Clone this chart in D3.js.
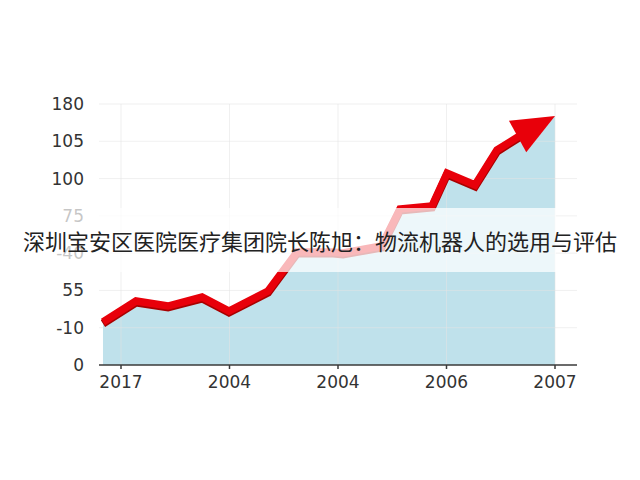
<!DOCTYPE html>
<html>
<head>
<meta charset="utf-8">
<script src="https://cdn.jsdelivr.net/npm/d3@7"></script>
<style>
html,body{margin:0;padding:0;background:#fff;}
svg{display:block;}
</style>
</head>
<body>
<svg id="chart" width="640" height="480"></svg>
<script>
// ---- data ----
const xTickLabels = ["2017", "2004", "2004", "2006", "2007"];
const yTickLabels = ["0", "-10", "55", "-40", "75", "100", "105", "180"];
// x positions in tick units (0 = first x tick), y values in gridline units (0 = bottom)
const xPos   = [-0.166, 0.138, 0.433, 0.747, 0.995, 1.355, 1.622, 1.954, 2.046, 2.40, 2.571, 2.866, 3.005, 3.263, 3.465, 3.72];
const yVal   = [1.153, 1.716, 1.582, 1.823, 1.448, 1.984, 3.029, 3.029, 3.003, 3.19, 4.182, 4.263, 5.147, 4.826, 5.764, 6.233];
const arrowTip = [4.0, 6.68];
const title = "深圳宝安区医院医疗集团院长陈旭：物流机器人的选用与评估";

// ---- layout ----
const svg = d3.select("#chart");
const x = d3.scaleLinear().domain([0, 4]).range([121, 555]);
const y = d3.scaleLinear().domain([0, 7]).range([365, 104]);
const gridLeft = 99, gridRight = 577;

const pts = xPos.map((v, i) => [v, yVal[i]]);
const areaPts = pts.concat([arrowTip]);

// gridlines
const g = svg.append("g");
g.selectAll("line.h").data(d3.range(1, yTickLabels.length)).join("line")
  .attr("x1", gridLeft).attr("x2", gridRight)
  .attr("y1", d => y(d)).attr("y2", d => y(d))
  .attr("stroke", "#e4e4e4").attr("stroke-width", 1);
g.selectAll("line.v").data(d3.range(xTickLabels.length)).join("line")
  .attr("x1", d => x(d)).attr("x2", d => x(d))
  .attr("y1", y(7)).attr("y2", y(0))
  .attr("stroke", "#e4e4e4").attr("stroke-width", 1);

// area
svg.append("path")
  .attr("d", d3.area().x(d => x(d[0])).y0(y(0)).y1(d => y(d[1]))(areaPts))
  .attr("fill", "#bfe1eb");

// vertical gridlines faintly over area
g.raise();
g.selectAll("line").attr("stroke-opacity", 0.55);

// line shadow + line
const lineGen = d3.line().x(d => x(d[0])).y(d => y(d[1]));
svg.append("path")
  .attr("d", lineGen(pts))
  .attr("transform", "translate(0,1.5)")
  .attr("fill", "none").attr("stroke", "#a80000")
  .attr("stroke-width", 8).attr("stroke-linejoin", "miter").attr("stroke-linecap", "butt");
svg.append("path")
  .attr("d", lineGen(pts))
  .attr("fill", "none").attr("stroke", "#e8000a")
  .attr("stroke-width", 7.5).attr("stroke-linejoin", "miter").attr("stroke-linecap", "butt");

// arrowhead
const last = pts[pts.length - 1];
const bx = x(last[0]), by = y(last[1]);
const tx = x(arrowTip[0]), ty = y(arrowTip[1]);
const dx = tx - bx, dy = ty - by, len = Math.hypot(dx, dy);
const ux = dx / len, uy = dy / len, px = -uy, py = ux;
const back = 8, half = 18;
const cx = bx - ux * back, cy = by - uy * back;
svg.append("path")
  .attr("d", `M${tx},${ty}L${cx + px * half},${cy + py * half}L${cx - px * half},${cy - py * half}Z`)
  .attr("fill", "#e8000a");

// axes
svg.append("line").attr("x1", gridLeft).attr("x2", gridRight)
  .attr("y1", y(0)).attr("y2", y(0)).attr("stroke", "#3a3a3a").attr("stroke-width", 1.6);
svg.selectAll("line.xt").data(xTickLabels).join("line")
  .attr("x1", (d, i) => x(i)).attr("x2", (d, i) => x(i))
  .attr("y1", y(0)).attr("y2", y(0) + 4)
  .attr("stroke", "#3a3a3a").attr("stroke-width", 1.5);

svg.selectAll("text.xl").data(xTickLabels).join("text")
  .attr("x", (d, i) => x(i)).attr("y", y(0) + 23)
  .attr("text-anchor", "middle")
  .attr("font-family", "DejaVu Sans, sans-serif").attr("font-size", 17)
  .attr("fill", "#333").text(d => d);

svg.selectAll("text.yl").data(yTickLabels).join("text")
  .attr("x", 84).attr("y", (d, i) => y(i) + 6)
  .attr("text-anchor", "end")
  .attr("font-family", "DejaVu Sans, sans-serif").attr("font-size", 17)
  .attr("fill", "#333").text(d => d);

// translucent band + title
svg.append("rect").attr("x", 0).attr("y", 208).attr("width", 556).attr("height", 64)
  .attr("fill", "#ffffff").attr("fill-opacity", 0.72);
svg.append("text").attr("x", 320).attr("y", 250)
  .attr("text-anchor", "middle")
  .attr("font-family", "Noto Sans CJK SC, sans-serif").attr("font-size", 22)
  .attr("fill", "#222").text(title);
</script>
</body>
</html>
